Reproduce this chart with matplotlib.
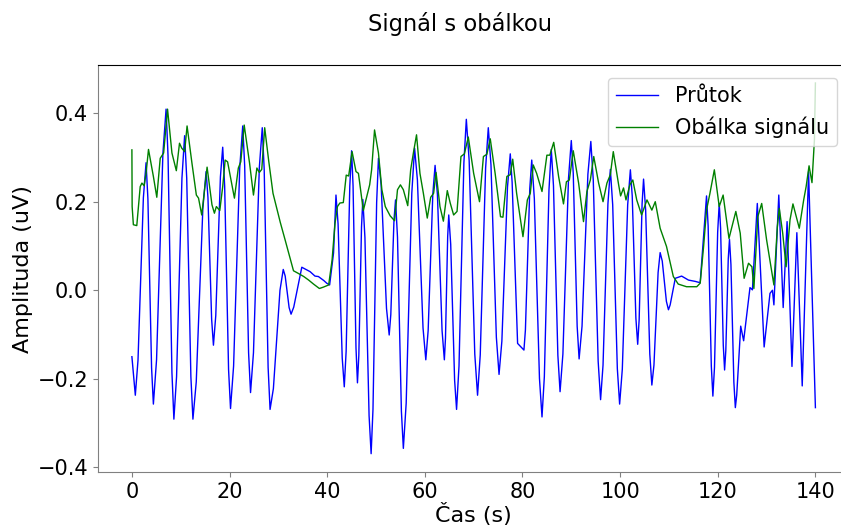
import matplotlib
matplotlib.use("Agg")
import matplotlib.pyplot as plt

# DATA

# flow signal (time in s, amplitude in uV)
flow_t = [0.0, 0.7, 1.25, 2.35, 2.9, 3.28, 4.03, 4.4, 5.05, 6.35,
          7.0, 7.4, 8.2, 8.6, 9.15, 10.25, 10.8, 11.23, 12.08, 12.5,
          13.18, 14.53, 15.2, 15.58, 16.33, 16.7, 17.18, 18.13, 18.6, 19.0,
          19.8, 20.2, 20.83, 22.08, 22.7, 23.1, 23.9, 24.3, 24.9, 26.1,
          26.7, 27.1, 27.9, 28.3, 28.98, 30.33, 31.0, 31.4, 32.2, 32.6,
          33.15, 34.8, 36.5, 37.5, 38.2, 39.3, 39.9, 40.5, 41.3, 41.8,
          42.23, 43.08, 43.5, 43.88, 44.63, 45.0, 45.3, 45.9, 46.2, 46.48,
          47.03, 47.3, 47.73, 48.58, 49.0, 49.38, 50.13, 50.5, 51.05, 52.15,
          52.7, 53.03, 53.68, 54.0, 54.4, 55.2, 55.6, 56.18, 57.33, 57.9,
          58.48, 59.63, 60.2, 60.68, 61.63, 62.1, 62.58, 63.53, 64.0, 64.23,
          64.68, 64.9, 65.3, 66.1, 66.5, 67.0, 68.0, 68.5, 69.08, 70.23,
          70.8, 71.35, 72.45, 73.0, 73.55, 74.65, 75.2, 75.78, 76.93, 77.5,
          77.88, 79.0, 80.3, 80.6, 81.5, 81.9, 82.43, 83.48, 84.0, 84.48,
          85.43, 85.9, 86.35, 87.25, 87.7, 88.28, 89.43, 90.0, 90.4, 91.2,
          91.6, 92.2, 93.4, 94.0, 94.5, 95.5, 96.0, 96.5, 97.5, 98.0,
          98.48, 99.43, 99.9, 100.45, 101.55, 102.1, 102.48, 103.23, 103.6, 103.9,
          104.5, 104.8, 105.23, 106.08, 106.5, 106.93, 107.78, 108.2, 108.63, 109.48,
          109.9, 110.25, 111.3, 112.6, 114.0, 115.4, 116.4, 117.7, 118.03, 118.68,
          119.0, 119.33, 119.98, 120.3, 120.58, 121.13, 121.4, 121.65, 122.15, 122.4,
          122.7, 123.3, 123.6, 123.88, 124.7, 125.3, 126.6, 127.1, 128.1, 129.5,
          130.7, 131.2, 131.5, 132.5, 133.4, 134.2, 135.2, 136.2, 137.3, 138.6, 140.0]
flow = [-0.150, -0.237, -0.158, 0.209, 0.288, 0.206, -0.175, -0.257, -0.157, 0.309,
        0.409, 0.304, -0.186, -0.291, -0.195, 0.253, 0.349, 0.253, -0.195, -0.291,
        -0.207, 0.184, 0.268, 0.209, -0.065, -0.124, -0.057, 0.256, 0.323, 0.235,
        -0.179, -0.267, -0.171, 0.275, 0.371, 0.281, -0.141, -0.231, -0.141, 0.277,
        0.367, 0.272, -0.174, -0.269, -0.222, 0.000, 0.047, 0.032, -0.039, -0.054,
        -0.038, 0.052, 0.042, 0.032, 0.031, 0.022, 0.016, 0.012, 0.084, 0.215,
        0.150, -0.153, -0.218, -0.138, 0.235, 0.315, 0.236, -0.130, -0.209, -0.147,
        0.143, 0.205, 0.119, -0.283, -0.369, -0.269, 0.198, 0.298, 0.238, -0.041,
        -0.101, -0.055, 0.158, 0.204, 0.120, -0.273, -0.357, -0.255, 0.219, 0.321,
        0.249, -0.085, -0.157, -0.091, 0.216, 0.282, 0.216, -0.091, -0.157, -0.108,
        0.121, 0.170, 0.104, -0.203, -0.269, -0.171, 0.288, 0.386, 0.293, -0.144,
        -0.237, -0.146, 0.276, 0.367, 0.283, -0.106, -0.190, -0.115, 0.233, 0.308,
        0.244, -0.120, -0.135, -0.090, 0.230, 0.294, 0.207, -0.199, -0.286, -0.195,
        0.227, 0.318, 0.236, -0.147, -0.229, -0.144, 0.253, 0.338, 0.264, -0.081,
        -0.155, -0.081, 0.262, 0.336, 0.249, -0.160, -0.247, -0.169, 0.195, 0.273,
        0.193, -0.177, -0.257, -0.178, 0.193, 0.272, 0.213, -0.063, -0.122, -0.066,
        0.195, 0.251, 0.181, -0.144, -0.214, -0.169, 0.040, 0.085, 0.066, -0.025,
        -0.044, -0.033, 0.027, 0.032, 0.023, 0.020, 0.017, 0.213, 0.145, -0.171,
        -0.239, -0.174, 0.131, 0.196, 0.140, -0.124, -0.180, -0.136, 0.071, 0.115,
        0.058, -0.208, -0.265, -0.237, -0.081, -0.114, 0.006, 0.001, 0.196, -0.128,
        -0.007, 0.000, -0.033, 0.215, -0.039, 0.155, -0.172, 0.130, -0.216, 0.268, -0.265]

# envelope
env_t = [0.0, 0.05, 0.3, 1.0, 1.7, 2.05, 2.5, 2.9, 3.4, 4.4, 5.1, 5.8, 6.5,
         7.3, 8.2, 9.1, 9.75, 10.2, 10.8, 11.3, 12.3, 13.2, 13.65, 14.3,
         15.4, 16.4, 16.9, 17.3, 18.0, 18.6, 19.1, 19.6, 21.0, 21.8, 22.3,
         23.0, 24.1, 24.9, 25.6, 26.1, 26.6, 27.2, 28.0, 28.9, 29.4, 30.4,
         31.4, 32.3, 33.1, 34.1, 35.2, 36.2, 37.2, 38.4, 39.2, 40.3, 41.0,
         41.6, 42.1, 42.6, 43.3, 43.9, 44.4, 45.1, 45.9, 46.4, 47.4, 48.7,
         49.1, 49.7, 50.5, 51.2, 51.9, 52.9, 53.8, 54.4, 55.0, 55.6, 56.5,
         57.1, 57.7, 58.3, 59.0, 59.7, 60.5, 61.2, 61.8, 62.3, 63.1, 63.8,
         64.6, 65.2, 65.9, 66.6, 67.4, 68.1, 68.9, 70.0, 71.2, 72.0, 72.7,
         73.4, 74.4, 75.5, 76.0, 76.8, 77.5, 78.0, 78.8, 80.1, 81.0, 81.6,
         82.2, 82.9, 84.0, 85.0, 85.6, 86.4, 87.4, 88.4, 89.0, 89.6, 90.4,
         91.5, 92.5, 93.2, 93.9, 94.6, 95.6, 96.5, 97.3, 98.0, 98.6, 99.7,
         100.1, 100.7, 101.2, 102.0, 102.6, 103.4, 104.4, 105.5, 106.5,
         107.2, 108.2, 109.5, 110.9, 111.9, 113.6, 115.7, 116.4, 117.1,
         117.7, 118.4, 119.3, 120.3, 121.1, 122.3, 123.7, 124.6, 125.4,
         126.3, 127.0, 127.4, 128.2, 129.0, 130.0, 131.5, 132.2, 132.6,
         133.3, 134.0, 134.8, 135.4, 136.0, 136.7, 137.6, 138.1, 138.7,
         139.3, 139.8, 140.0]
env = [0.317, 0.189, 0.148, 0.146, 0.234, 0.242, 0.236, 0.264, 0.318, 0.257,
       0.210, 0.298, 0.310, 0.409, 0.310, 0.270, 0.332, 0.321, 0.313, 0.371,
       0.287, 0.215, 0.208, 0.170, 0.278, 0.193, 0.174, 0.189, 0.180, 0.234,
       0.294, 0.290, 0.208, 0.276, 0.290, 0.373, 0.287, 0.215, 0.276, 0.266,
       0.273, 0.367, 0.294, 0.219, 0.197, 0.153, 0.113, 0.076, 0.044, 0.038,
       0.031, 0.023, 0.014, 0.004, 0.007, 0.012, 0.068, 0.151, 0.189, 0.197,
       0.198, 0.260, 0.258, 0.313, 0.268, 0.264, 0.180, 0.238, 0.272, 0.362,
       0.310, 0.227, 0.189, 0.168, 0.157, 0.227, 0.238, 0.227, 0.191, 0.272,
       0.313, 0.351, 0.264, 0.219, 0.163, 0.210, 0.219, 0.266, 0.189, 0.156,
       0.225, 0.197, 0.170, 0.178, 0.302, 0.308, 0.346, 0.264, 0.200, 0.302,
       0.307, 0.342, 0.264, 0.166, 0.165, 0.257, 0.261, 0.296, 0.219, 0.121,
       0.204, 0.219, 0.283, 0.264, 0.223, 0.305, 0.305, 0.334, 0.257, 0.195,
       0.245, 0.249, 0.315, 0.242, 0.155, 0.223, 0.249, 0.302, 0.242, 0.200,
       0.242, 0.261, 0.313, 0.238, 0.213, 0.231, 0.204, 0.238, 0.249, 0.204,
       0.170, 0.204, 0.181, 0.200, 0.140, 0.099, 0.031, 0.014, 0.008, 0.008,
       0.016, 0.099, 0.181, 0.219, 0.272, 0.189, 0.215, 0.117, 0.178, 0.129,
       0.027, 0.061, 0.053, 0.004, 0.166, 0.196, 0.114, 0.012, 0.143, 0.185,
       0.129, 0.053, 0.159, 0.195, 0.170, 0.140, 0.204, 0.234, 0.281, 0.243,
       0.340, 0.468]

# PLOT
fig = plt.figure(figsize=(8.41, 5.29), dpi=100)
# axes runs a bit past the right edge, like the reference crop
ax = fig.add_axes([0.1162, 0.1072, 0.894, 0.7694])

ax.plot(flow_t, flow, color='blue', lw=1, label='Průtok')
ax.plot(env_t, env, color='green', lw=1, label='Obálka signálu')

ax.set_xlim(-7, 147)
ax.set_ylim(-0.411, 0.508)
ax.set_xticks([0, 20, 40, 60, 80, 100, 120, 140])
ax.set_yticks([-0.4, -0.2, 0.0, 0.2, 0.4])

ax.set_xlabel('Čas (s)', fontsize=16, labelpad=1)
ax.set_ylabel('Amplituda (uV)', fontsize=16, labelpad=3)
ax.tick_params(labelsize=15, color='gray')
ax.spines['left'].set_color('gray')
ax.spines['bottom'].set_color('gray')

ax.legend(loc='upper right', fontsize=15, borderaxespad=0.6)
fig.text(460 / 841, 1 - 24 / 529, 'Signál s obálkou', fontsize=16.3,
         ha='center', va='center')

fig.savefig('out.png', dpi=100)
